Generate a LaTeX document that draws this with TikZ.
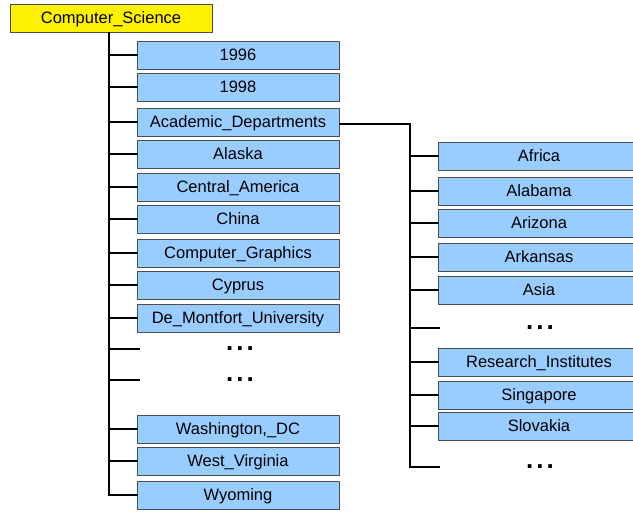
\documentclass[tikz,border=0pt]{standalone}
\usepackage{fontspec}
\setmainfont{Liberation Sans}
\usetikzlibrary{positioning,calc}
\definecolor{boxblue}{HTML}{99CCFF}
\definecolor{edgegray}{HTML}{4D4D4D}

\begin{document}
\begin{tikzpicture}[x=1pt,y=-1pt,every node/.style={font=\fontsize{16.5}{19}\selectfont},
  box/.style={draw=edgegray,line width=1pt,fill=boxblue,minimum width=202pt,minimum height=28pt,inner sep=0pt,text height=11.8pt,text depth=0pt},
  rootbox/.style={box,fill=yellow},
  gap/.style={minimum width=202pt,inner sep=0pt,text height=3.6pt,text depth=0pt,font=\fontsize{26}{30}\selectfont\bfseries},
  link/.style={line width=2pt,line cap=rect}]
\useasboundingbox (0,0) rectangle (633,512);
\node[rootbox] (cs) at (111,18) {Computer\_Science};
\node[box] (y96) at (238,55) {1996};
\node[box] (y98) at (238,87) {1998};
\node[box] (acad) at (238,122) {Academic\_Departments};
\node[box] (alaska) at (238,154) {Alaska};
\node[box] (camerica) at (238,187) {Central\_America};
\node[box] (china) at (238,219) {China};
\node[box] (graphics) at (238,253) {Computer\_Graphics};
\node[box] (cyprus) at (238,285) {Cyprus};
\node[box] (dmu) at (238,318) {De\_Montfort\_University};
\node[gap] (moreA) at (240,349) {.\hspace{3pt}.\hspace{3pt}.};
\node[gap] (moreB) at (240,380) {.\hspace{3pt}.\hspace{3pt}.};
\node[box] (wdc) at (238,429) {Washington,\_DC};
\node[box] (wva) at (238,461) {West\_Virginia};
\node[box] (wyo) at (238,495) {Wyoming};
\node[box] (africa) at (539,156) {Africa};
\node[box] (alabama) at (539,191) {Alabama};
\node[box] (arizona) at (539,223) {Arizona};
\node[box] (arkansas) at (539,257) {Arkansas};
\node[box] (asia) at (539,290) {Asia};
\node[gap] (moreC) at (540,328) {.\hspace{3pt}.\hspace{3pt}.};
\node[box] (research) at (539,362) {Research\_Institutes};
\node[box] (singapore) at (539,395) {Singapore};
\node[box] (slovakia) at (539,426) {Slovakia};
\node[gap] (moreD) at (540,467) {.\hspace{3pt}.\hspace{3pt}.};
\coordinate (trunk) at (109,32);
\coordinate (subtrunk) at (410,124);
\draw[link] (cs.south -| trunk) -- (trunk |- wyo.west);
\foreach \n in {y96,y98,acad,alaska,camerica,china,graphics,cyprus,dmu,moreA,moreB,wdc,wva,wyo}
  \draw[link] (trunk |- \n.west) -- (\n.west);
\draw[link] (acad.east |- subtrunk) -- (subtrunk) -- (subtrunk |- moreD.west);
\foreach \n in {africa,alabama,arizona,arkansas,asia,moreC,research,singapore,slovakia,moreD}
  \draw[link] (subtrunk |- \n.west) -- (\n.west);
\end{tikzpicture}
\end{document}
